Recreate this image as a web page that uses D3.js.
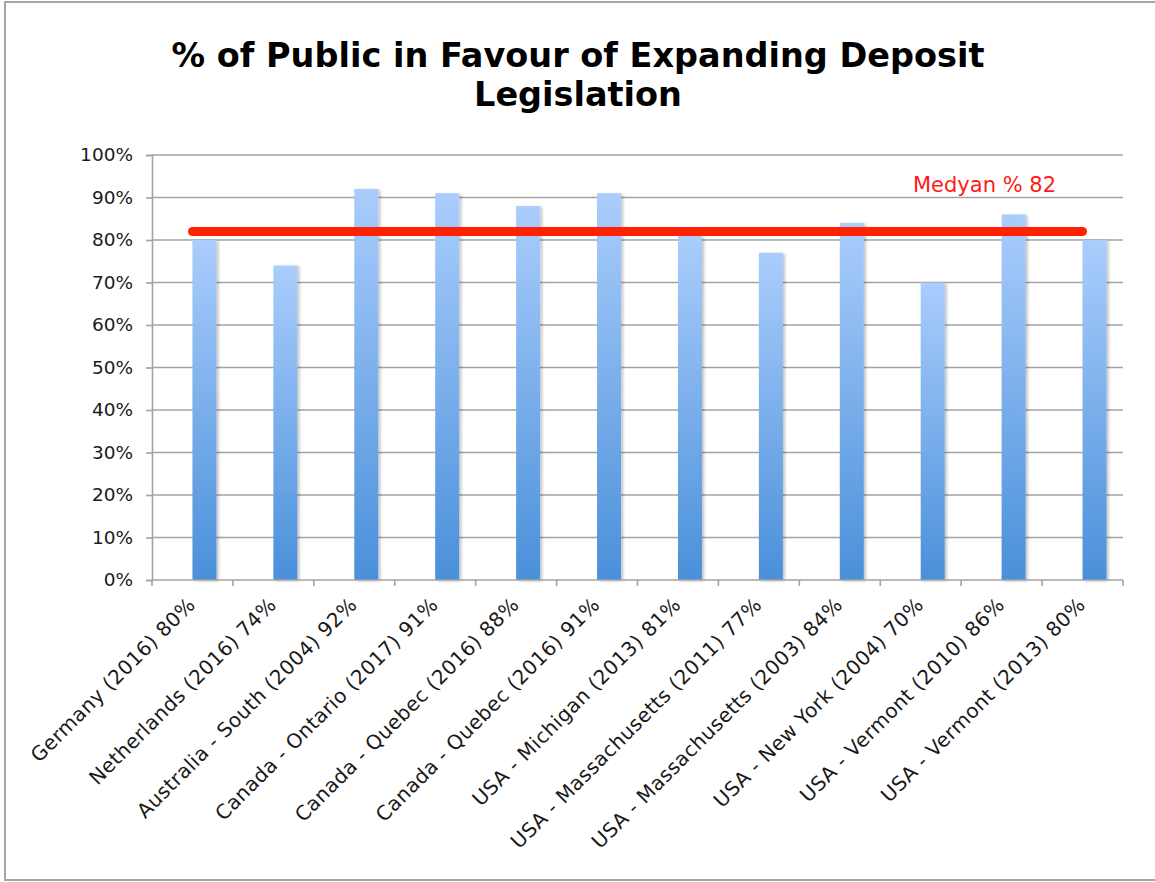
<!DOCTYPE html>
<html>
<head>
<meta charset="utf-8">
<script src="https://cdn.jsdelivr.net/npm/d3@7"></script>
<style>
  body { margin: 0; background: #fff; }
  text { font-family: 'DejaVu Sans', sans-serif; }
</style>
</head>
<body>
<svg id="chart" width="1155" height="882"></svg>
<script>
(function() {

  'use strict';

  var categories = [
    'Germany (2016) 80%',
    'Netherlands (2016) 74%',
    'Australia - South (2004) 92%',
    'Canada - Ontario (2017) 91%',
    'Canada - Quebec (2016) 88%',
    'Canada - Quebec (2016) 91%',
    'USA - Michigan (2013) 81%',
    'USA - Massachusetts (2011) 77%',
    'USA - Massachusetts (2003) 84%',
    'USA - New York (2004) 70%',
    'USA - Vermont (2010) 86%',
    'USA - Vermont (2013) 80%'
  ];
  var values = [80, 74, 92, 91, 88, 91, 81, 77, 84, 70, 86, 80];
  var yTicks = [0, 10, 20, 30, 40, 50, 60, 70, 80, 90, 100];
  var median = 82;
  var titleLines = ['% of Public in Favour of Expanding Deposit', 'Legislation'];
  var medianLabel = 'Medyan % 82';

  var gridColor = '#a3a3a3';
  var svg = d3.select('#chart');

  // frame round the whole chart (right side runs off the picture)
  svg.append('rect')
    .attr('x', 5).attr('y', 2)
    .attr('width', 1160).attr('height', 878)
    .attr('fill', 'none')
    .attr('stroke', '#a6a6a6')
    .attr('stroke-width', 2);

  var plot = {left: 152, right: 1123, top: 155, bottom: 580};

  var x = d3.scaleBand().domain(categories).range([plot.left, plot.right]).padding(0);
  var y = d3.scaleLinear().domain([0, 100]).range([plot.bottom, plot.top]);

  var defs = svg.append('defs');
  var grad = defs.append('linearGradient')
    .attr('id', 'barFill')
    .attr('x1', 0).attr('y1', 0).attr('x2', 0).attr('y2', 1);
  grad.append('stop').attr('offset', '0%').attr('stop-color', '#aacdfc');
  grad.append('stop').attr('offset', '100%').attr('stop-color', '#4a90da');

  var shadow = defs.append('filter').attr('id', 'barShadow')
    .attr('x', '-20%').attr('y', '-5%').attr('width', '160%').attr('height', '110%');
  shadow.append('feGaussianBlur').attr('in', 'SourceAlpha').attr('stdDeviation', 1.6).attr('result', 'blur');
  shadow.append('feOffset').attr('in', 'blur').attr('dx', 2).attr('dy', 1).attr('result', 'off');
  shadow.append('feComponentTransfer').attr('in', 'off').attr('result', 'soft')
    .append('feFuncA').attr('type', 'linear').attr('slope', 0.25);
  var merge = shadow.append('feMerge');
  merge.append('feMergeNode').attr('in', 'soft');
  merge.append('feMergeNode').attr('in', 'SourceGraphic');

  // title
  svg.append('text')
    .attr('class', 'title')
    .attr('x', 578)
    .attr('y', 67)
    .attr('text-anchor', 'middle')
    .attr('font-size', '33.5px')
    .attr('font-weight', 'bold')
    .attr('fill', '#000')
    .selectAll('tspan').data(titleLines).enter().append('tspan')
    .attr('x', 578)
    .attr('dy', function(d, i) { return i === 0 ? 0 : 39; })
    .text(function(d) { return d; });

  // gridlines
  svg.append('g').selectAll('line').data(yTicks.slice(1)).enter().append('line')
    .attr('x1', plot.left).attr('x2', plot.right)
    .attr('y1', function(d) { return y(d); })
    .attr('y2', function(d) { return y(d); })
    .attr('stroke', gridColor)
    .attr('stroke-width', 1.6);

  // y axis
  var yAxis = svg.append('g')
    .attr('transform', 'translate(' + plot.left + ',0)')
    .call(d3.axisLeft(y).tickValues(yTicks).tickSize(6).tickPadding(13)
      .tickFormat(function(d) { return d + '%'; }));
  yAxis.select('.domain').attr('stroke', gridColor).attr('stroke-width', 1.6);
  yAxis.selectAll('.tick line').attr('stroke', gridColor).attr('stroke-width', 1.6);
  yAxis.selectAll('.tick text')
    .attr('font-family', 'DejaVu Sans, sans-serif')
    .attr('font-size', '18.5px')
    .attr('fill', '#1a1a1a');

  // bars, starting at the band centre like the original
  svg.append('g').selectAll('rect').data(values).enter().append('rect')
    .attr('class', 'bar')
    .attr('x', function(d, i) { return x(categories[i]) + x.bandwidth() / 2; })
    .attr('y', function(d) { return y(d); })
    .attr('width', 24)
    .attr('height', function(d) { return y(0) - y(d); })
    .attr('fill', 'url(#barFill)')
    .attr('filter', 'url(#barShadow)');

  // x axis
  var xAxis = svg.append('g')
    .attr('transform', 'translate(0,' + plot.bottom + ')');
  xAxis.append('line')
    .attr('x1', plot.left).attr('x2', plot.right)
    .attr('y1', 0).attr('y2', 0)
    .attr('stroke', gridColor).attr('stroke-width', 1.6);
  var edges = categories.map(function(c) { return x(c); }).concat([plot.right]);
  xAxis.selectAll('.tickmark').data(edges).enter().append('line')
    .attr('x1', function(d) { return d; })
    .attr('x2', function(d) { return d; })
    .attr('y1', 0).attr('y2', 6)
    .attr('stroke', gridColor).attr('stroke-width', 1.6);

  svg.append('g').selectAll('text').data(categories).enter().append('text')
    .attr('class', 'xlabel')
    .attr('text-anchor', 'end')
    .attr('font-size', '20px')
    .attr('letter-spacing', '0.4px')
    .attr('fill', '#1a1a1a')
    .attr('transform', function(d) {
      return 'translate(' + (x(d) + x.bandwidth() / 2 + 4) + ',' + 606 + ') rotate(-45)';
    })
    .text(function(d) { return d; });

  // median line
  svg.append('line')
    .attr('x1', x(categories[0]) + x.bandwidth() / 2)
    .attr('x2', x(categories[categories.length - 1]) + x.bandwidth() / 2)
    .attr('y1', y(median)).attr('y2', y(median))
    .attr('stroke', '#ff2200')
    .attr('stroke-width', 9)
    .attr('stroke-linecap', 'round');

  svg.append('text')
    .attr('x', 913)
    .attr('y', 192)
    .attr('font-size', '21px')
    .attr('fill', '#ff1a1a')
    .text(medianLabel);

})();
</script>
</body>
</html>
